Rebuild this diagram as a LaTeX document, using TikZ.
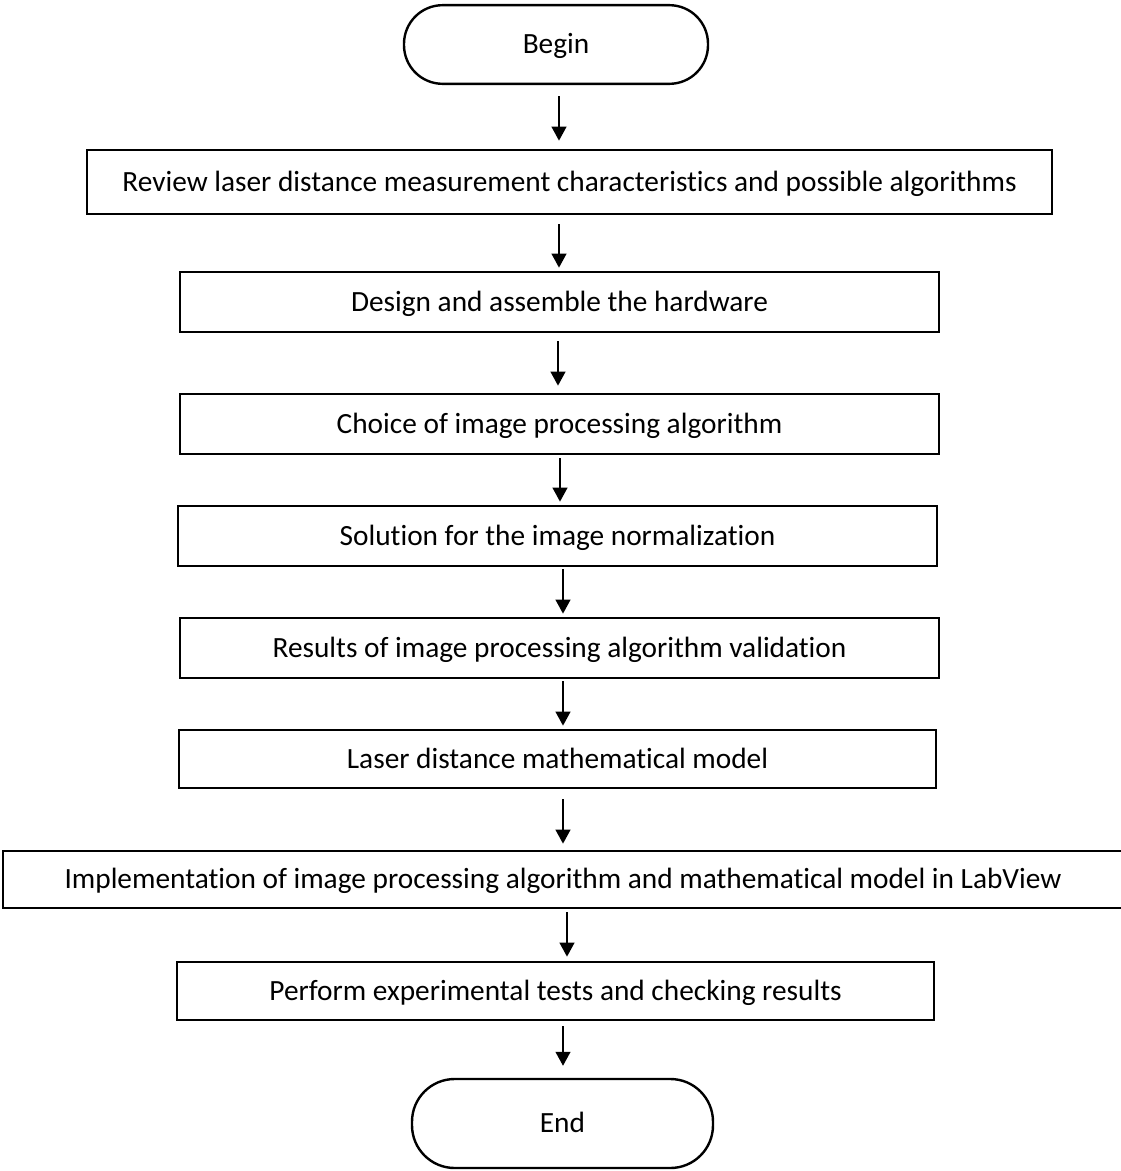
\documentclass[tikz,border=0pt]{standalone}
\usepackage{fontspec}
\setmainfont{Carlito}[Ligatures=NoCommon]
\usetikzlibrary{arrows.meta,calc}

\begin{document}
\begin{tikzpicture}[x=0.75pt,y=-0.75pt,
  every node/.style={font=\fontsize{22}{26}\selectfont, inner sep=0pt, text=black,
    text height=14.2pt, text depth=0pt},
  stepbox/.style={draw=black, line width=2pt, rectangle},
  terminal/.style={draw=black, line width=1.8pt, rectangle, rounded corners=#1},
  arr/.style={draw=black, line width=1.6pt, -{Triangle[length=10.5pt,width=11pt]}}
]
% page frame
\clip (0,0) rectangle (1121,1171);
\useasboundingbox (0,0) rectangle (1121,1171);

% terminals
\node[terminal=29pt, minimum width=228pt, minimum height=59pt] (begin) at (556,44.5) {Begin};
\node[terminal=32pt, minimum width=225.75pt, minimum height=66.75pt] (end) at (562.5,1123.5) {End};

% process steps
\node[stepbox, minimum width=723.75pt, minimum height=48pt] (b1) at (569.5,182)
  {Review laser distance measurement characteristics and possible algorithms};
\node[stepbox, minimum width=569.25pt, minimum height=45pt] (b2) at (559.5,302)
  {Design and assemble the hardware};
\node[stepbox, minimum width=569.25pt, minimum height=45pt] (b3) at (559.5,424)
  {Choice of image processing algorithm};
\node[stepbox, minimum width=569.25pt, minimum height=45pt] (b4) at (557.5,536)
  {Solution for the image normalization};
\node[stepbox, minimum width=569.25pt, minimum height=45pt] (b5) at (559.5,648)
  {Results of image processing algorithm validation};
\node[stepbox, minimum width=567.75pt, minimum height=43.5pt] (b6) at (557.5,759)
  {Laser distance mathematical model};
\node[stepbox, minimum width=840pt, minimum height=42.75pt] (b7) at (563,879.5)
  {Implementation of image processing algorithm and mathematical model in LabView};
\node[stepbox, minimum width=567.75pt, minimum height=43.5pt] (b8) at (555.5,991)
  {Perform experimental tests and checking results};

% connectors
\draw[arr] ($(begin.south)+(3,11)$) -- ($(b1.north)+(-10.5,-8)$);
\draw[arr] ($(b1.south)+(-10.5,9)$) -- ($(b2.north)+(-0.5,-3)$);
\draw[arr] ($(b2.south)+(-1.5,8)$) -- ($(b3.north)+(-1.5,-7)$);
\draw[arr] ($(b3.south)+(0.5,3)$) -- ($(b4.north)+(2.5,-3)$);
\draw[arr] ($(b4.south)+(5.5,2)$) -- ($(b5.north)+(3.5,-3)$);
\draw[arr] ($(b5.south)+(3.5,2)$) -- ($(b6.north)+(5.5,-3)$);
\draw[arr] ($(b6.south)+(5.5,10)$) -- ($(b7.north)+(0,-6)$);
\draw[arr] ($(b7.south)+(4,3)$) -- ($(b8.north)+(11.5,-4)$);
\draw[arr] ($(b8.south)+(7.5,5)$) -- ($(end.north)+(0.5,-12)$);
\end{tikzpicture}
\end{document}
